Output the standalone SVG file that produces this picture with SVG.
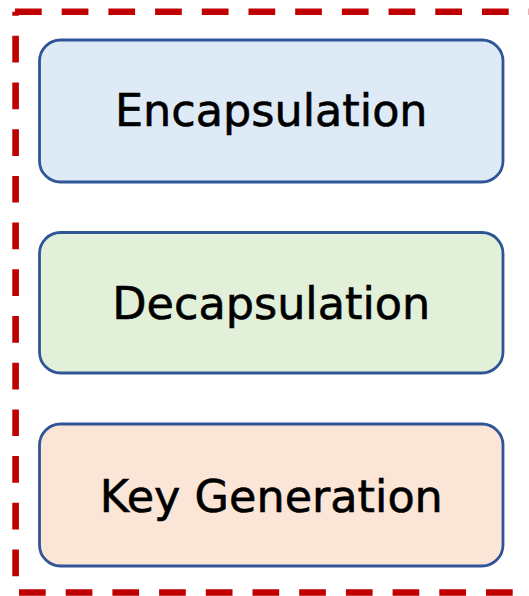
<svg xmlns="http://www.w3.org/2000/svg" width="529" height="596" viewBox="0 0 529 596">
<style>
.frame{fill:none;stroke:#C00000;stroke-width:6.6;stroke-dasharray:26.7 20}
.box{stroke:#2F5597;stroke-width:2.8}
.lbl{font-family:"DejaVu Sans",sans-serif;font-size:44.5px;fill:#000;stroke:#000;stroke-width:0.6;text-anchor:middle}
</style>
<rect width="529" height="596" fill="#fff"/>
<g id="frame">
<path class="frame" d="M15 11.7 H540"/>
<path class="frame" d="M15.6 11.7 V592.5" stroke-dashoffset="22.6"/>
<path class="frame" d="M19 592.5 H540"/>
</g>
<g id="encapsulation">
<rect class="box" x="39.5" y="40" width="463.5" height="142" rx="21" fill="#DEEBF7"/>
<text class="lbl" x="271.3" y="126">Encapsulation</text>
</g>
<g id="decapsulation">
<rect class="box" x="39.5" y="232.5" width="463.5" height="140.5" rx="21" fill="#E2F0D9"/>
<text class="lbl" x="271.3" y="319">Decapsulation</text>
</g>
<g id="key-generation">
<rect class="box" x="39.5" y="424" width="463.5" height="142" rx="21" fill="#FBE5D6"/>
<text class="lbl" x="271.3" y="511.5">Key Generation</text>
</g>
<g id="connectors"></g>
</svg>
